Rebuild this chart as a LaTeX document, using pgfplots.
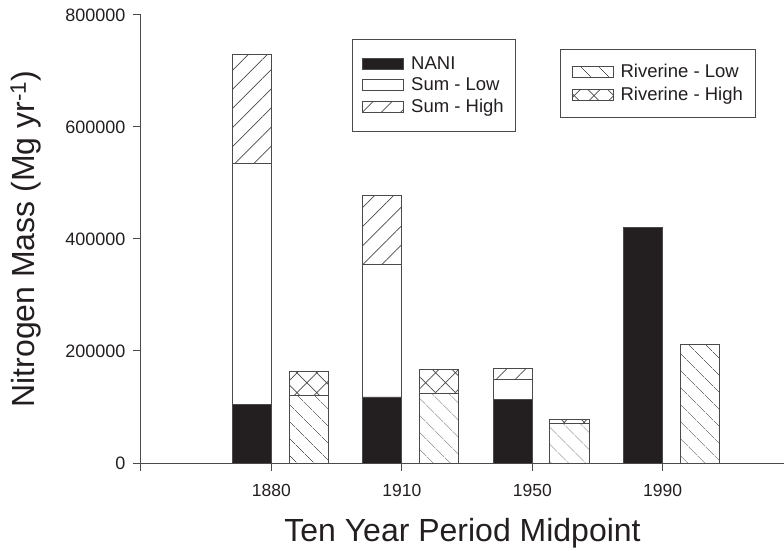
\documentclass[border=0pt]{standalone}
\usepackage{fontspec}
\setmainfont{Liberation Sans}
\usepackage{pgfplots}
\usepackage{pgfplotstable}
\pgfplotsset{compat=1.18}
\usetikzlibrary{patterns.meta}
\definecolor{ink}{HTML}{231F20}
\definecolor{edge}{HTML}{4A4A4A}

% NANI / sum group
\pgfplotstableread{
x nani
0 105000
1 118000
2 114000
3 421000
}\nanitab
\pgfplotstableread{
x sumlow sumhigh
0 535000 729000
1 355000 477000
2 150000 169000
}\sumtab
% riverine group
\pgfplotstableread{
x low
0 121000
1 125000
2 70000
3 211000
}\rivlowtab
\pgfplotstableread{
x high
0 164000
1 167000
2 77000
}\rivhightab

\begin{document}
\begin{tikzpicture}
\useasboundingbox (0,0) rectangle (784pt,551pt);
\pgfplotsset{
  common/.style={
    at={(141pt,88pt)}, anchor=south west,
    scale only axis, width=643pt, height=448pt,
    xmin=-1, xmax=3.93, ymin=0, ymax=800000,
  },
  legfont/.style={font=\fontsize{18.5}{21}\selectfont, text=ink},
}
\begin{axis}[
  common,
  axis x line*=bottom, axis y line*=left,
  axis line style={edge, line width=1pt, -},
  tick style={edge, line width=1pt},
  tick align=outside, major tick length=8pt,
  minor tick num=0,
  xtick={-1,0,1,2,3}, xticklabels={,1880,1910,1950,1990},
  ytick={0,200000,400000,600000,800000},
  scaled y ticks=false,
  /pgf/number format/assume math mode=true,
  yticklabel style={/pgf/number format/fixed, /pgf/number format/1000 sep={}, font=\fontsize{18}{20}\selectfont, text=ink, xshift=-4pt},
  xticklabel style={font=\fontsize{17.5}{20}\selectfont, text=ink, yshift=-10pt},
  xlabel={Ten Year Period Midpoint},
  ylabel={Nitrogen Mass (Mg yr\textsuperscript{-1})},
  label style={font=\fontsize{32}{36}\selectfont, text=ink},
  xlabel style={yshift=-15pt},
  ylabel style={yshift=17pt},
  legend cell align=left,
  legend style={at={(0.328,0.946)}, anchor=north west, draw=edge, line width=1pt, fill=white,
    legfont, inner xsep=10pt, inner ysep=15pt, row sep=3pt,
    /tikz/every odd column/.append style={column sep=5pt}},
]
\addplot[ybar, bar width=0.3, bar shift=-0.15, draw=edge, line width=0.8pt, fill=white,
  postaction={pattern={Lines[angle=45,distance=13.5pt,line width=0.7pt]}, pattern color=edge}, forget plot]
  table[x=x, y=sumhigh] {\sumtab};
\addplot[ybar, bar width=0.3, bar shift=-0.15, draw=edge, line width=0.8pt, fill=white, forget plot]
  table[x=x, y=sumlow] {\sumtab};
\addplot[ybar, bar width=0.3, bar shift=-0.15, draw=edge, line width=0.8pt, fill=ink, forget plot]
  table[x=x, y=nani] {\nanitab};
\addplot[ybar, bar width=0.3, bar shift=0.285, draw=edge, line width=0.8pt, fill=white,
  postaction={pattern={Hatch[angle=45,distance=14pt,line width=0.7pt]}, pattern color=edge}, forget plot]
  table[x=x, y=high] {\rivhightab};
\addplot[ybar, bar width=0.3, bar shift=0.285, draw=edge, line width=0.8pt, fill=white,
  postaction={pattern={Lines[angle=-45,distance=13pt,line width=0.7pt]}, pattern color=edge}, forget plot]
  table[x=x, y=low] {\rivlowtab};

\addlegendimage{legend image code/.code={\draw[draw=edge, line width=0.8pt, fill=ink] (0pt,-5.5pt) rectangle (41pt,5.5pt);}}
\addlegendentry{NANI}
\addlegendimage{legend image code/.code={\draw[draw=edge, line width=0.8pt, fill=white] (0pt,-5.5pt) rectangle (41pt,5.5pt);}}
\addlegendentry{Sum - Low}
\addlegendimage{legend image code/.code={\draw[draw=edge, line width=0.8pt, fill=white, postaction={pattern={Lines[angle=45,distance=13.5pt,line width=0.7pt]}, pattern color=edge}] (0pt,-5.5pt) rectangle (41pt,5.5pt);}}
\addlegendentry{Sum - High}
\end{axis}

\begin{axis}[
  common, hide axis,
  legend cell align=left,
  legend style={at={(0.652,0.924)}, anchor=north west, draw=edge, line width=1pt, fill=white,
    legfont, inner xsep=11pt, inner ysep=13pt, row sep=4pt,
    /tikz/every odd column/.append style={column sep=5pt}},
]
\addlegendimage{legend image code/.code={\draw[draw=edge, line width=0.8pt, fill=white, postaction={pattern={Lines[angle=-45,distance=13pt,line width=0.7pt]}, pattern color=edge}] (0pt,-5.5pt) rectangle (41pt,5.5pt);}}
\addlegendentry{Riverine - Low}
\addlegendimage{legend image code/.code={\draw[draw=edge, line width=0.8pt, fill=white, postaction={pattern={Hatch[angle=45,distance=14pt,line width=0.7pt]}, pattern color=edge}] (0pt,-5.5pt) rectangle (41pt,5.5pt);}}
\addlegendentry{Riverine - High}
\end{axis}
\end{tikzpicture}
\end{document}
